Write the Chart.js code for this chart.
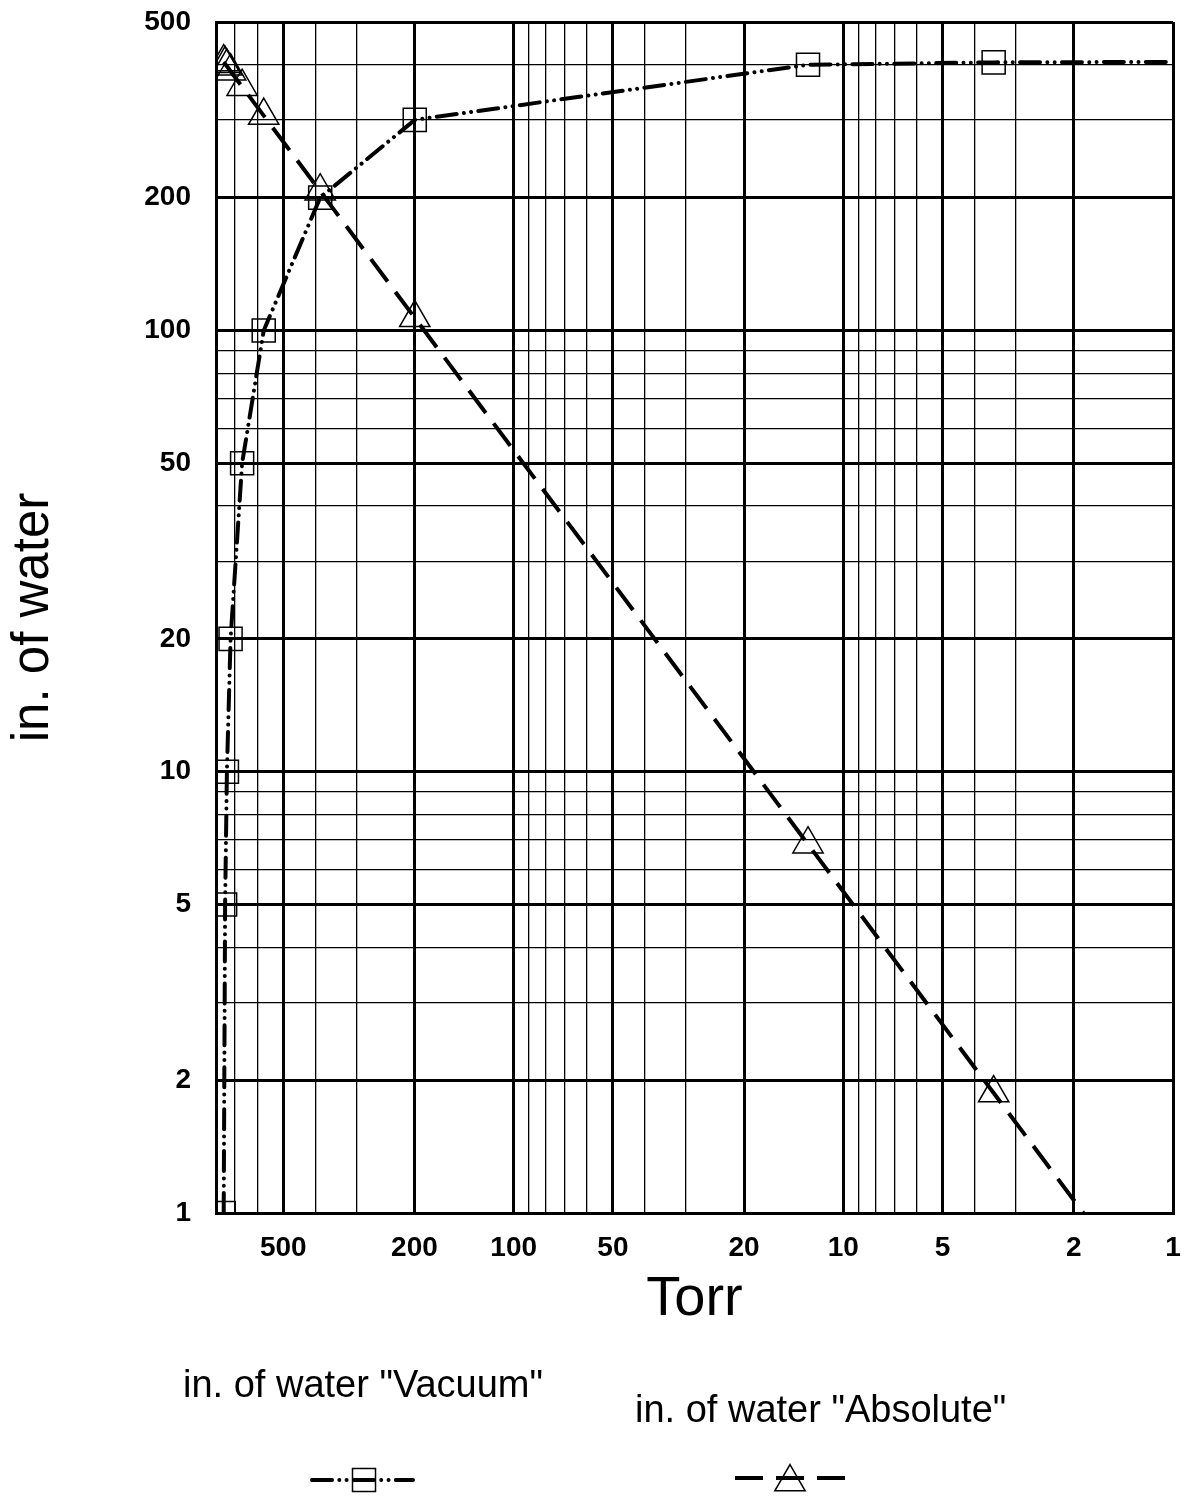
<!DOCTYPE html>
<html>
<head>
<meta charset="utf-8">
<title>in. of water vs Torr</title>
<script src="https://cdn.jsdelivr.net/npm/chart.js@4.4.1/dist/chart.umd.min.js"></script>
<style>
  html, body { margin: 0; padding: 0; background: #fff; }
  #wrap { position: relative; width: 1193px; height: 1497px; }
</style>
</head>
<body>
<div id="wrap"><canvas id="chart"></canvas></div>
<script>
// pressure in Torr at each marker
const torr = [758.1, 750.7, 741.3, 722.6, 666.6, 573.2, 386.4, 199.6, 12.8, 3.5];
// in. of water below atmosphere ("Vacuum")
const vacuumInH2O = [1, 5, 10, 20, 50, 100, 200, 300, 400, 405];
// in. of water absolute
const absoluteInH2O = [405.8, 401.9, 396.8, 386.8, 356.8, 306.8, 206.8, 106.8, 6.85, 1.87];

// the lines run on past the last marker to the edge of the grid
const vacuumTail = { x: 1, y: 406 };
const absoluteTail = { x: 1.87, y: 1 };

const xTickLabels = [500, 200, 100, 50, 20, 10, 5, 2, 1];
const yTickLabels = [1, 2, 5, 10, 20, 50, 100, 200, 500];
const xRange = [1, 800];
const yRange = [1, 500];

const FONT = '"Liberation Sans", Arial, Helvetica, sans-serif';

// log grid: 1..9 x 10^n
function logGrid(min, max) {
    const out = [];
    for (let d = 1; d <= max; d *= 10) {
        for (let m = 1; m <= 9; m++) {
            const v = m * d;
            if (v >= min && v <= max) out.push({ value: v });
        }
    }
    return out;
}

function isMajor(v) {
    const lead = Math.round(v / Math.pow(10, Math.floor(Math.log10(v) + 1e-9)));
    return lead === 1 || lead === 2 || lead === 5;
}

function toPoints(xs, ys, tail) {
    const pts = xs.map((x, i) => ({ x: x, y: ys[i] }));
    pts.push(tail);
    return pts;
}

// marker only on the measured points, not on the tail
function markerRadius(r) {
    return (c) => c.dataIndex < torr.length ? r : 0;
}

const VAC_DASH = [20, 7.3, 0.01, 7.3, 0.01, 7.3];
const ABS_DASH = [28, 13];

// legend sits under the axis title: label text above a line sample
const legendBelow = {
    id: 'legendBelow',
    afterDraw(chart) {
        const ctx = chart.ctx;
        const sets = chart.data.datasets;
        ctx.save();
        ctx.fillStyle = '#000';
        ctx.font = '38px ' + FONT;
        ctx.textAlign = 'left';
        ctx.textBaseline = 'alphabetic';
        ctx.fillText(sets[0].label, 183, 1397);
        ctx.fillText(sets[1].label, 635, 1422);

        ctx.strokeStyle = '#000';

        // vacuum sample
        const vy = 1480;
        ctx.lineWidth = 4;
        ctx.lineCap = 'round';
        ctx.setLineDash(VAC_DASH);
        ctx.beginPath();
        ctx.moveTo(312, vy);
        ctx.lineTo(413, vy);
        ctx.stroke();
        ctx.setLineDash([]);
        ctx.lineWidth = 1.5;
        ctx.strokeRect(364 - 11.5, vy - 11.5, 23, 23);

        // absolute sample
        const ay = 1478;
        ctx.lineWidth = 4;
        ctx.lineCap = 'butt';
        ctx.setLineDash(ABS_DASH);
        ctx.beginPath();
        ctx.moveTo(735, ay);
        ctx.lineTo(845, ay);
        ctx.stroke();
        ctx.setLineDash([]);
        ctx.lineWidth = 1.5;
        const r = 17.5, cx = 790, cy = ay + 4;
        ctx.beginPath();
        ctx.moveTo(cx, cy - r);
        ctx.lineTo(cx + r * Math.sin(2 * Math.PI / 3), cy + r / 2);
        ctx.lineTo(cx - r * Math.sin(2 * Math.PI / 3), cy + r / 2);
        ctx.closePath();
        ctx.stroke();
        ctx.restore();
    }
};

const gridOpts = {
    color: '#000',
    lineWidth: (c) => (c.tick && isMajor(c.tick.value)) ? 3 : 1.3,
    drawTicks: false
};

new Chart(document.getElementById('chart'), {
    type: 'line',
    data: {
        datasets: [
            {
                label: 'in. of water "Vacuum"',
                data: toPoints(torr, vacuumInH2O, vacuumTail),
                borderColor: '#000',
                borderWidth: 4,
                borderDash: VAC_DASH,
                borderCapStyle: 'round',
                tension: 0,
                fill: false,
                pointStyle: 'rect',
                pointRadius: markerRadius(16.3),
                pointBorderWidth: 1.5,
                pointBorderColor: '#000',
                pointBackgroundColor: 'rgba(0,0,0,0)'
            },
            {
                label: 'in. of water "Absolute"',
                data: toPoints(torr, absoluteInH2O, absoluteTail),
                borderColor: '#000',
                borderWidth: 4,
                borderDash: ABS_DASH,
                borderCapStyle: 'butt',
                tension: 0,
                fill: false,
                pointStyle: 'triangle',
                pointRadius: markerRadius(17.5),
                pointBorderWidth: 1.5,
                pointBorderColor: '#000',
                pointBackgroundColor: 'rgba(0,0,0,0)'
            }
        ]
    },
    options: {
        responsive: true,
        maintainAspectRatio: false,
        animation: false,
        events: [],
        layout: { padding: { top: 22, right: 20, bottom: 154, left: 0 } },
        plugins: {
            legend: { display: false },
            tooltip: { enabled: false }
        },
        scales: {
            x: {
                type: 'logarithmic',
                reverse: true,
                min: xRange[0],
                max: xRange[1],
                afterBuildTicks: (s) => { s.ticks = logGrid(xRange[0], xRange[1]); },
                afterFit: (s) => { s.height = 130; s.paddingLeft = 0; s.paddingRight = 0; },
                grid: gridOpts,
                border: { display: true, color: '#000', width: 3 },
                ticks: {
                    autoSkip: false,
                    maxRotation: 0,
                    padding: 18,
                    color: '#000',
                    font: { family: FONT, size: 28, weight: 'bold' },
                    callback: (v) => xTickLabels.includes(v) ? String(v) : ''
                },
                title: {
                    display: true,
                    text: 'Torr',
                    color: '#000',
                    font: { family: FONT, size: 56 },
                    padding: { top: 0, bottom: 10 }
                }
            },
            y: {
                type: 'logarithmic',
                min: yRange[0],
                max: yRange[1],
                afterBuildTicks: (s) => { s.ticks = logGrid(yRange[0], yRange[1]); },
                afterFit: (s) => { s.width = 216; s.paddingTop = 0; s.paddingBottom = 0; },
                grid: gridOpts,
                border: { display: true, color: '#000', width: 3 },
                ticks: {
                    autoSkip: false,
                    padding: 25,
                    color: '#000',
                    font: { family: FONT, size: 28, weight: 'bold' },
                    callback: (v) => yTickLabels.includes(v) ? String(v) : ''
                },
                title: {
                    display: true,
                    text: 'in. of water',
                    color: '#000',
                    font: { family: FONT, size: 51 },
                    padding: { top: 3, bottom: 0 }
                }
            }
        }
    },
    plugins: [legendBelow]
});
</script>
</body>
</html>
